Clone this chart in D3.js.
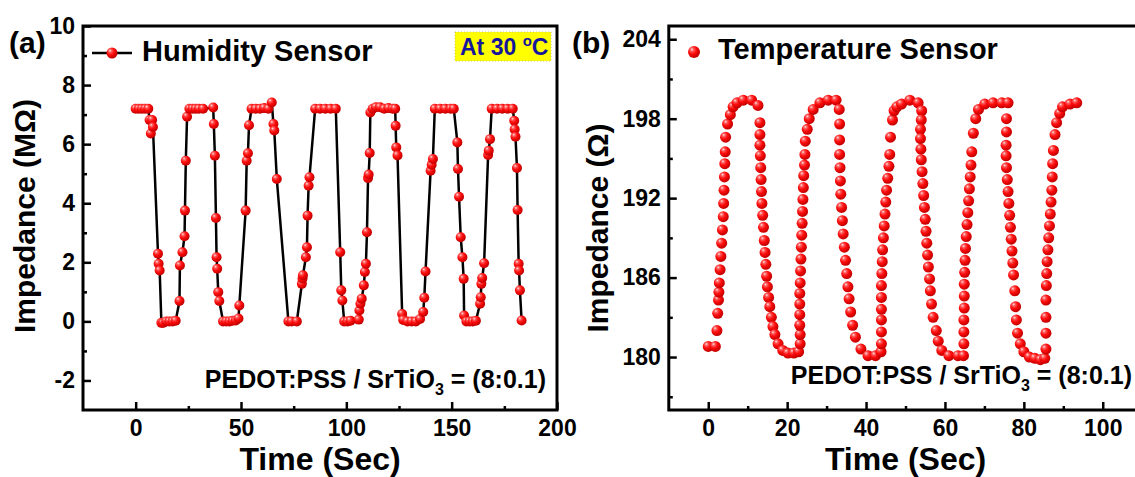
<!DOCTYPE html>
<html>
<head>
<meta charset="utf-8">
<script src="https://cdn.jsdelivr.net/npm/d3@7"></script>
<style>
  body { margin: 0; background: #fff; }
  text { font-family: Arial, "Liberation Sans", sans-serif; font-weight: bold; }
</style>
</head>
<body>
<svg id="fig" width="1135" height="477"></svg>
<script>
// ---- (a) humidity sensor response, impedance in MΩ ----
const humidityTime = [
  0, 1.5, 3, 4.5, 6, 6.6, 7.2, 7.8, 8.2, 10.6, 10.9, 11.4, 12.2, 13, 14.5, 16, 17.5, 19,
  20.8, 21, 22.2, 23.2, 23.4, 23.8, 24.4, 25.5, 27, 28.5, 30, 32, 36.8,
  37.1, 37.6, 38.1, 38.4, 38.7, 39.2, 39.7, 41.5, 43, 44.5, 46, 47.5, 48.8, 49.2,
  52.2, 52.7, 53.3, 53.8, 55, 57, 59, 61, 63, 64.6,
  65.4, 65.8, 67, 72.5, 74, 76.5,
  78.9, 79.2, 79.4, 80.8, 81.3, 81.6, 82.1, 82.5, 85.2, 87.5, 90, 92.5, 95,
  97.1, 97.6, 98.1, 99, 100.5, 102,
  105.9, 106.2, 106.7, 107.3, 108.3, 108.8, 109.3, 109.8, 110.3, 110.6, 111.1, 111.4, 112.5, 114, 116, 118, 120, 122, 123.2,
  123.4, 123.7, 124.3, 126.5, 127, 129, 131, 133, 135, 136.5, 137,
  137.6, 140, 140.5, 141.1, 142, 144.5, 147, 149.5, 151,
  152.7, 153, 153.5, 154.3, 155.1, 155.7, 155.9, 157, 158.5, 160, 161.5,
  163.5, 163.8, 164.1, 164.5, 165.4, 167.3, 167.6, 168.2, 169, 171.5, 174, 176.5, 179,
  179.7, 179.9, 180.3, 181, 181.3, 181.8, 182, 182.4, 183.2
];
const humidityValue = [
  7.2, 7.2, 7.2, 7.2, 7.2, 6.82, 6.36, 6.82, 6.58, 2.29, 1.95, 1.72, -0.05, -0.05, 0, 0, 0, 0.02,
  0.69, 1.89, 2.34, 2.88, 3.75, 5.44, 6.93, 7.2, 7.2, 7.2, 7.2, 7.2, 7.24,
  6.68, 5.61, 3.5, 2.17, 1.78, 0.99, 0.69, 0, 0, 0, 0.02, 0.03, 0.1, 0.54,
  3.75, 5.44, 5.69, 6.64, 7.2, 7.2, 7.2, 7.22, 7.2, 7.41,
  6.68, 6.46, 4.82, 0, 0, 0,
  1.27, 1.45, 1.56, 2.17, 2.51, 3.58, 4.59, 4.88, 7.2, 7.2, 7.2, 7.2, 7.2,
  2.34, 1.05, 0.71, 0, 0, 0.02,
  0.06, 0.37, 0.6, 0.77, 1.22, 1.67, 1.95, 3.02, 4.85, 4.97, 5.7, 7.07, 7.2, 7.25, 7.25, 7.2, 7.22, 7.2, 7.2,
  6.62, 5.89, 5.62, 0.25, 0.05, 0, 0, 0, 0.08, 0.32, 0.8,
  1.69, 5.1, 5.3, 5.5, 7.2, 7.2, 7.2, 7.2, 7.2,
  6.06, 5.16, 4.22, 2.85, 2.17, 1.44, 0.2, 0, 0, 0, 0.02,
  0.6, 0.82, 1.27, 1.47, 1.97, 5.63, 5.78, 6.17, 7.2, 7.2, 7.2, 7.2, 7.2,
  6.79, 6.5, 6.25, 5.19, 3.77, 1.95, 1.72, 1.05, 0.03
];

// ---- (b) temperature sensor response, impedance in Ω ----
const temperatureTime = [
  0, 1.8, 2.2, 2.4, 2.6, 2.7, 2.8, 3.0, 3.2, 3.4, 3.6, 3.8, 3.9, 4.0, 4.1, 4.2, 4.3, 4.4, 4.9, 5.6, 6.3, 7.3, 8.9, 11.0, 12.6,
  13.1, 13.1, 13.1, 13.2, 13.3, 13.4, 13.5, 13.6, 13.8, 14.0, 14.2, 14.4, 14.6, 14.8, 15.0, 15.3, 15.6, 16.0, 16.4, 16.9, 17.7, 18.9, 20.2, 21.7, 22.9,
  23.3, 23.3, 23.2, 23.2, 23.2, 23.2, 23.3, 23.4, 23.5, 23.6, 23.7, 23.8, 23.9, 24.0, 24.1, 24.2, 24.4, 24.5, 24.6, 25.1, 25.6, 26.6, 28.3, 30.4, 32.4, 33.2,
  33.3, 33.3, 33.3, 33.4, 33.5, 33.6, 33.8, 34.0, 34.2, 34.5, 34.8, 35.1, 35.4, 35.7, 36.1, 36.6, 37.3, 38.7, 40.5, 42.4, 43.8,
  43.9, 43.9, 43.9, 43.9, 43.9, 43.9, 44.0, 44.1, 44.2, 44.4, 44.6, 44.8, 45.0, 45.2, 45.5, 45.8, 46.0, 46.2, 46.7, 47.1, 47.8, 49.0, 51.1, 53.2, 54.1,
  54.0, 53.8, 53.8, 53.9, 54.0, 54.2, 54.4, 54.6, 54.8, 55.0, 55.2, 55.4, 55.6, 55.8, 56.1, 56.3, 56.6, 57.0, 57.8, 58.3, 59.2, 61.0, 63.3, 64.7,
  64.8, 64.8, 64.8, 64.9, 64.9, 64.9, 65.0, 65.1, 65.2, 65.4, 65.6, 65.8, 66.0, 66.2, 66.4, 66.6, 66.8, 67.2, 67.8, 68.5, 70.1, 72.2, 74.4, 76.0,
  75.6, 75.6, 75.5, 75.5, 75.6, 75.8, 76.0, 76.2, 76.4, 76.6, 76.8, 77.0, 77.2, 77.4, 77.7, 77.9, 78.1, 78.4, 79.1, 80.0, 81.4, 82.8, 84.2, 85.3,
  85.6, 85.6, 85.6, 85.6, 85.7, 85.8, 85.9, 86.1, 86.3, 86.5, 86.7, 86.9, 87.1, 87.2, 87.3, 87.5, 87.9, 88.3, 89.1, 89.8, 91.7, 93.4
];
const temperatureValue = [
  180.8, 180.8, 182.0, 183.3, 184.3, 184.9, 185.6, 186.6, 187.6, 188.6, 189.6, 190.6, 191.6, 192.6, 193.6, 194.6, 195.5, 196.6, 197.6, 198.3, 198.9, 199.2, 199.4, 199.4, 199.0,
  197.7, 196.8, 196.0, 195.2, 194.3, 193.4, 192.5, 191.6, 190.7, 189.8, 188.8, 187.9, 187.0, 186.1, 185.3, 184.5, 183.8, 183.0, 182.3, 181.7, 181.0, 180.5, 180.3, 180.3, 180.4,
  181.0, 181.7, 182.4, 183.2, 184.0, 184.8, 185.6, 186.5, 187.4, 188.3, 189.2, 190.1, 191.0, 191.9, 192.8, 193.7, 194.5, 195.3, 196.3, 197.2, 198.0, 198.7, 199.2, 199.4, 199.4, 198.7,
  197.6, 196.4, 195.3, 194.3, 193.3, 192.3, 191.3, 190.3, 189.3, 188.3, 187.3, 186.3, 185.3, 184.4, 183.4, 182.4, 181.5, 180.6, 180.1, 180.1, 180.4,
  181.0, 181.9, 182.8, 183.6, 184.5, 185.4, 186.3, 187.2, 188.1, 189.0, 189.9, 190.8, 191.7, 192.6, 193.5, 194.4, 195.3, 196.6, 197.9, 198.6, 198.9, 199.1, 199.4, 199.2, 198.6,
  197.9, 197.2, 196.5, 195.7, 194.9, 194.0, 193.1, 192.2, 191.3, 190.4, 189.5, 188.6, 187.7, 186.8, 185.9, 185.0, 184.0, 183.0, 182.0, 181.2, 180.5, 180.1, 180.1, 180.1,
  181.0, 181.9, 182.8, 183.7, 184.6, 185.5, 186.4, 187.3, 188.2, 189.1, 190.0, 190.9, 191.8, 192.7, 193.6, 194.5, 195.5, 196.9, 198.0, 198.7, 199.1, 199.2, 199.2, 199.2,
  198.0, 197.0, 196.0, 195.2, 194.3, 193.4, 192.5, 191.6, 190.7, 189.8, 188.9, 188.0, 187.1, 186.2, 185.0, 183.8, 182.8, 181.8, 181.0, 180.4, 180.0, 179.9, 179.8, 179.9,
  180.6, 181.8, 183.0, 184.3, 185.4, 186.3, 187.2, 188.1, 189.0, 189.9, 190.8, 191.7, 192.6, 193.6, 194.6, 195.6, 196.8, 197.7, 198.4, 198.9, 199.1, 199.2
];

// ---- tick values ----
const humidityXTicks = [0, 50, 100, 150, 200];
const humidityXMinor = [25, 75, 125, 175];
const humidityYTicks = [-2, 0, 2, 4, 6, 8, 10];
const humidityYMinor = [-1, 1, 3, 5, 7, 9];
const temperatureXTicks = [0, 20, 40, 60, 80, 100];
const temperatureXMinor = [10, 30, 50, 70, 90];
const temperatureYTicks = [180, 186, 192, 198, 204];
const temperatureYMinor = [177, 183, 189, 195, 201];

const svg = d3.select("#fig");

// shaded sphere used for every marker
const defs = svg.append("defs");
const grad = defs.append("radialGradient").attr("id", "ball")
  .attr("cx", "38%").attr("cy", "35%").attr("r", "62%").attr("fx", "32%").attr("fy", "28%");
grad.append("stop").attr("offset", "0%").attr("stop-color", "#ffe6e6");
grad.append("stop").attr("offset", "22%").attr("stop-color", "#ff6060");
grad.append("stop").attr("offset", "55%").attr("stop-color", "#ff0d0d");
grad.append("stop").attr("offset", "100%").attr("stop-color", "#c40000");

// plain hyphen for negative labels
const plainLabel = d => String(d).replace("\u2212", "-");

function drawPanel(cfg) {
  const g = svg.append("g");
  const x = d3.scaleLinear().domain(cfg.xDomain).range(cfg.xRange);
  const y = d3.scaleLinear().domain(cfg.yDomain).range(cfg.yRange);

  // major / minor ticks pointing inward
  const xMajor = d3.axisBottom(x).tickValues(cfg.xTicks).tickSize(-8).tickPadding(10).tickFormat(plainLabel);
  const xMinor = d3.axisBottom(x).tickValues(cfg.xMinor).tickSize(-4).tickFormat("");
  const yMajor = d3.axisLeft(y).tickValues(cfg.yTicks).tickSize(-8).tickPadding(8).tickFormat(plainLabel);
  const yMinor = d3.axisLeft(y).tickValues(cfg.yMinor).tickSize(-4).tickFormat("");

  const styleAxis = a => {
    a.select(".domain").remove();
    a.selectAll(".tick line").attr("stroke", "#000").attr("stroke-width", 2.5);
    a.selectAll(".tick text").attr("fill", "#000").style("font-size", "23px")
      .style("font-family", "Arial, 'Liberation Sans', sans-serif").style("font-weight", "bold");
  };
  g.append("g").attr("transform", `translate(0,${cfg.yRange[0]})`).call(xMajor).call(styleAxis);
  g.append("g").attr("transform", `translate(0,${cfg.yRange[0]})`).call(xMinor).call(styleAxis);
  g.append("g").attr("transform", `translate(${cfg.xRange[0]},0)`).call(yMajor).call(styleAxis);
  g.append("g").attr("transform", `translate(${cfg.xRange[0]},0)`).call(yMinor).call(styleAxis);

  // frame
  g.append("rect")
    .attr("x", cfg.xRange[0]).attr("y", cfg.yRange[1])
    .attr("width", cfg.xRange[1] - cfg.xRange[0]).attr("height", cfg.yRange[0] - cfg.yRange[1])
    .attr("fill", "none").attr("stroke", "#000").attr("stroke-width", 3);

  const pts = cfg.time.map((t, i) => [t, cfg.value[i]]);
  if (cfg.line) {
    g.append("path").datum(pts)
      .attr("d", d3.line().x(d => x(d[0])).y(d => y(d[1])))
      .attr("fill", "none").attr("stroke", "#000").attr("stroke-width", 2.5);
  }
  g.append("g").selectAll("circle").data(pts).join("circle")
    .attr("cx", d => x(d[0])).attr("cy", d => y(d[1])).attr("r", cfg.r)
    .attr("fill", "url(#ball)");

  // axis titles
  g.append("text").attr("x", (cfg.xRange[0] + cfg.xRange[1]) / 2).attr("y", 470)
    .attr("text-anchor", "middle").style("font-size", "32px").text("Time (Sec)");
  g.append("text")
    .attr("transform", `translate(${cfg.yTitleX},${cfg.yTitleY}) rotate(-90)`)
    .attr("text-anchor", "middle").style("font-size", "30px").text(cfg.yTitle);

  // composition note
  const note = g.append("text").attr("x", cfg.noteX).attr("y", cfg.noteY)
    .attr("text-anchor", "end").style("font-size", "25px");
  note.append("tspan").text("PEDOT:PSS / SrTiO");
  note.append("tspan").attr("dy", 7).style("font-size", "16px").text("3");
  note.append("tspan").attr("dy", -7).text(" = (8:0.1)");

  // panel letter
  g.append("text").attr("x", cfg.letterX).attr("y", 53).style("font-size", "30px").text(cfg.letter);
  return { g, x, y };
}

// (a)
const A = drawPanel({
  xDomain: [-25, 200], xRange: [83, 557],
  yDomain: [-3, 10], yRange: [410, 26],
  xTicks: humidityXTicks, xMinor: humidityXMinor,
  yTicks: humidityYTicks, yMinor: humidityYMinor,
  time: humidityTime, value: humidityValue, line: true, r: 5,
  yTitle: "Impedance (MΩ)", yTitleX: 35, yTitleY: 216,
  noteX: 546, noteY: 388, letter: "(a)", letterX: 9
});

// legend (a)
A.g.append("line").attr("x1", 92).attr("x2", 132).attr("y1", 53).attr("y2", 53)
  .attr("stroke", "#000").attr("stroke-width", 2.5);
A.g.append("circle").attr("cx", 112).attr("cy", 53).attr("r", 5.5).attr("fill", "url(#ball)");
A.g.append("text").attr("x", 142).attr("y", 61).style("font-size", "29px").text("Humidity Sensor");

// temperature badge
A.g.append("rect").attr("x", 455).attr("y", 32).attr("width", 96).attr("height", 29)
  .attr("fill", "#ffff00").attr("stroke", "#c8c860").attr("stroke-width", 1).attr("stroke-dasharray", "1,2");
const badge = A.g.append("text").attr("x", 460).attr("y", 55).attr("fill", "#16169c").style("font-size", "23px");
badge.append("tspan").text("At 30 ");
badge.append("tspan").attr("dy", -9).style("font-size", "15px").text("o");
badge.append("tspan").attr("dy", 9).text("C");

// (b)
const B = drawPanel({
  xDomain: [-10, 110], xRange: [668.8, 1142.2],
  yDomain: [176, 205], yRange: [410, 26],
  xTicks: temperatureXTicks, xMinor: temperatureXMinor,
  yTicks: temperatureYTicks, yMinor: temperatureYMinor,
  time: temperatureTime, value: temperatureValue, line: false, r: 5.5,
  yTitle: "Impedance (Ω)", yTitleX: 608, yTitleY: 228,
  noteX: 1132, noteY: 384, letter: "(b)", letterX: 572
});

// legend (b)
B.g.append("circle").attr("cx", 694).attr("cy", 52).attr("r", 6).attr("fill", "url(#ball)");
B.g.append("text").attr("x", 718).attr("y", 59).style("font-size", "29px").text("Temperature Sensor");
</script>
</body>
</html>
